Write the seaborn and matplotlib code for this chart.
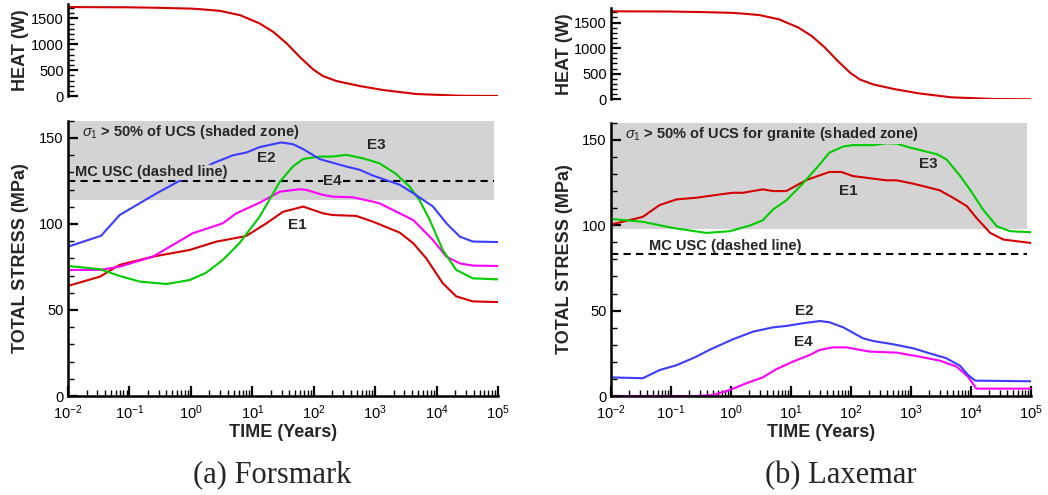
import numpy as np
import pandas as pd
import matplotlib
matplotlib.use("Agg")
import matplotlib.pyplot as plt
import matplotlib.ticker as mticker
import seaborn as sns

sns.set_theme(style="white")
plt.rcParams['font.family'] = ['Liberation Sans', 'DejaVu Sans']
plt.rcParams['mathtext.fontset'] = 'custom'
plt.rcParams['mathtext.rm'] = 'Liberation Sans'
plt.rcParams['mathtext.it'] = 'Liberation Sans:italic'
plt.rcParams['mathtext.bf'] = 'Liberation Sans:bold'

# ---------------- data (time given as log10 of years) ----------------
heat_logt = [-2, -1, -0.5, 0, 0.15, 0.47, 0.8, 1.12, 1.34, 1.56, 1.77, 1.99, 2.15, 2.37, 2.75, 3.13, 3.67, 4.38, 5.0]
heat_w = [1720, 1715, 1705, 1690, 1679, 1647, 1563, 1403, 1241, 1017, 759, 515, 386, 290, 193, 116, 39, 6, 0]

# Forsmark
f_e1_logt = [-2, -1.48, -1.16, -0.62, -0.02, 0.41, 0.90, 1.23, 1.50, 1.83, 2.15, 2.31, 2.69, 2.96, 3.40, 3.62, 3.83, 4.10, 4.32, 4.59, 5.0]
f_e1 = [64.0, 69.4, 76.2, 81.0, 84.9, 89.7, 93.0, 100.4, 107.1, 110.1, 106.2, 105.2, 104.7, 101.4, 95.0, 88.8, 80.1, 65.6, 57.9, 55.0, 54.6]
f_e2_logt = [-2, -1.46, -1.16, -0.56, -0.07, 0.36, 0.69, 0.90, 1.12, 1.47, 1.66, 1.83, 2.10, 2.53, 2.75, 2.96, 3.40, 3.62, 3.94, 4.16, 4.38, 4.59, 5.0]
f_e2 = [86.8, 93.2, 105.2, 117.8, 127.3, 135.3, 140.0, 141.5, 144.7, 147.4, 146.4, 143.5, 137.7, 133.4, 131.5, 128.2, 122.8, 117.9, 110.2, 100.4, 92.6, 89.8, 89.5]
f_e3_logt = [-2, -1.48, -1.16, -0.83, -0.40, -0.02, 0.25, 0.52, 0.79, 1.12, 1.45, 1.66, 1.83, 2.10, 2.31, 2.53, 2.80, 3.07, 3.34, 3.56, 3.72, 3.89, 4.10, 4.32, 4.59, 5.0]
f_e3 = [75.6, 73.7, 69.8, 66.5, 65.1, 67.4, 71.7, 79.1, 88.8, 104.3, 124.6, 133.4, 137.8, 139.2, 139.2, 140.2, 138.2, 135.3, 129.1, 121.7, 114.0, 102.3, 84.9, 73.3, 68.4, 67.8]
f_e4_logt = [-2, -1.48, -1.16, -0.62, 0.03, 0.52, 0.74, 1.12, 1.45, 1.77, 1.88, 2.15, 2.31, 2.64, 2.96, 3.07, 3.62, 3.94, 4.16, 4.38, 4.59, 5.0]
f_e4 = [73.3, 73.3, 75.2, 81.0, 94.6, 100.4, 106.2, 112.4, 118.8, 120.2, 119.8, 116.9, 115.9, 115.5, 113.0, 112.0, 102.3, 90.7, 81.0, 77.1, 75.8, 75.6]

# Laxemar
l_e1_logt = [-2, -1.47, -1.19, -0.91, -0.58, -0.19, 0.03, 0.20, 0.53, 0.70, 0.92, 1.26, 1.64, 1.84, 2.03, 2.59, 2.76, 3.04, 3.26, 3.48, 3.70, 3.93, 4.09, 4.32, 4.54, 5.0]
l_e1 = [100.4, 104.9, 111.8, 115.1, 116.1, 118.0, 119.0, 119.0, 121.0, 120.0, 120.0, 126.5, 131.2, 131.2, 128.8, 126.3, 126.3, 124.3, 122.4, 120.4, 116.1, 111.2, 104.3, 95.5, 91.6, 89.6]
l_e2_logt = [-2, -1.47, -1.19, -0.91, -0.58, -0.36, 0.03, 0.37, 0.70, 0.92, 1.20, 1.48, 1.64, 1.87, 2.20, 2.37, 2.70, 3.04, 3.31, 3.59, 3.82, 3.95, 4.07, 5.0]
l_e2 = [10.9, 10.4, 15.2, 18.0, 23.0, 27.0, 33.2, 37.7, 40.2, 41.0, 42.6, 43.9, 43.2, 40.2, 33.8, 32.2, 30.3, 27.9, 25.0, 22.1, 17.6, 12.3, 9.0, 8.6]
l_e3_logt = [-2, -1.47, -0.97, -0.41, -0.02, 0.31, 0.53, 0.70, 0.92, 1.20, 1.48, 1.64, 1.87, 2.03, 2.37, 2.59, 2.76, 2.98, 3.43, 3.59, 3.82, 3.98, 4.20, 4.43, 4.65, 5.0]
l_e3 = [103.7, 102.0, 98.4, 95.5, 96.5, 99.8, 102.9, 109.2, 114.5, 124.5, 135.7, 142.5, 146.1, 146.9, 146.9, 148.0, 147.8, 145.5, 141.6, 138.6, 128.8, 121.0, 109.2, 99.4, 96.5, 95.9]
l_e4_logt = [-2, -0.58, -0.30, -0.02, 0.25, 0.53, 0.75, 1.03, 1.31, 1.48, 1.70, 1.92, 2.31, 2.76, 3.15, 3.48, 3.76, 3.95, 4.09, 5.0]
l_e4 = [0, 0, 0.6, 3.5, 7.4, 10.9, 15.6, 20.1, 24.0, 27.0, 28.5, 28.5, 26.0, 25.4, 23.0, 20.7, 17.2, 11.3, 4.3, 4.3]

x_decades = [-2, -1, 0, 1, 2, 3, 4, 5]

f_shade = (114, 160)
f_mc_usc = 125
l_shade = (98, 160)
l_mc_usc = 83

col = {'E1': '#d40000', 'E2': '#3c3cff', 'E3': '#00cc00', 'E4': '#ff00ff'}
SHADE = '#d3d3d3'

fig = plt.figure(figsize=(10.48, 4.95), dpi=100)

def style_axis(ax, bottom=True):
    for s in ['top', 'right']:
        ax.spines[s].set_visible(False)
    ax.spines['left'].set_linewidth(1.8)
    ax.spines['left'].set_color('black')
    if bottom:
        ax.spines['bottom'].set_linewidth(1.8)
        ax.spines['bottom'].set_color('black')
    else:
        ax.spines['bottom'].set_visible(False)
    ax.tick_params(which='major', direction='in', length=7, width=1.6, color='black',
                   labelsize=10.5, labelcolor='black', pad=3)
    ax.tick_params(which='minor', direction='in', length=4, width=1.0, color='black')
    ax.tick_params(axis='y', which='both', left=True, right=False)
    if bottom:
        ax.tick_params(axis='x', which='both', bottom=True, top=False, pad=5)
    else:
        ax.tick_params(axis='x', which='both', bottom=False, labelbottom=False)
    ax.grid(False)
    ax.set_facecolor('none')

def heat_panel(rect):
    ax = fig.add_axes(rect)
    df = pd.DataFrame({'t': 10 ** np.array(heat_logt, dtype=float), 'w': heat_w})
    sns.lineplot(data=df, x='t', y='w', ax=ax, color='#d40000', lw=1.5, estimator=None, sort=False)
    ax.set_xscale('log')
    ax.set_xlim(1e-2, 1e5)
    ax.set_ylim(0, 1780)
    ax.xaxis.set_major_locator(mticker.NullLocator())
    ax.xaxis.set_minor_locator(mticker.NullLocator())
    ax.yaxis.set_major_locator(mticker.FixedLocator([0, 500, 1000, 1500]))
    ax.yaxis.set_minor_locator(mticker.MultipleLocator(100))
    style_axis(ax, bottom=False)
    ax.set_xlabel('')
    ax.set_ylabel('HEAT (W)', fontsize=13, fontweight='bold')
    ax.yaxis.set_label_coords(-0.09, 0.5)
    return ax

def stress_panel(rect, series, shade, mc, labels, texts):
    ax = fig.add_axes(rect)
    ax.axhspan(shade[0], shade[1], xmax=0.99, color=SHADE, lw=0, zorder=0)
    ax.axhline(mc, xmax=0.99, color='black', lw=1.5, dashes=(3.5, 2.5), zorder=1)
    for name, lt, v in series:
        df = pd.DataFrame({'t': 10 ** np.array(lt, dtype=float), 'v': v})
        sns.lineplot(data=df, x='t', y='v', ax=ax, color=col[name], lw=1.5,
                     estimator=None, sort=False, zorder=2)
    ax.set_xscale('log')
    ax.set_xlim(1e-2, 1e5)
    ax.set_ylim(0, 160)
    majors = [10.0 ** d for d in x_decades]
    minors = [m * 10.0 ** d for d in x_decades[:-1] for m in range(2, 10)]
    ax.xaxis.set_major_locator(mticker.FixedLocator(majors))
    ax.xaxis.set_major_formatter(mticker.LogFormatterSciNotation())
    ax.xaxis.set_minor_locator(mticker.FixedLocator(minors))
    ax.xaxis.set_minor_formatter(mticker.NullFormatter())
    ax.yaxis.set_major_locator(mticker.FixedLocator([0, 50, 100, 150]))
    ax.yaxis.set_minor_locator(mticker.MultipleLocator(10))
    style_axis(ax, bottom=True)
    ax.set_xlabel('TIME (Years)', fontsize=13, fontweight='bold', labelpad=2)
    ax.set_ylabel('TOTAL STRESS (MPa)', fontsize=13, fontweight='bold')
    ax.yaxis.set_label_coords(-0.09, 0.5)
    for name, lt, v in labels:
        ax.text(10 ** lt, v, name, fontsize=11, fontweight='bold', ha='center', va='center',
                zorder=3, bbox=dict(facecolor=SHADE, edgecolor='none', pad=0.5) if v > shade[0] else None)
    for s, lt, v in texts:
        ax.text(10 ** lt, v, s, fontsize=10.5, fontweight='bold', ha='left', va='center', zorder=3,
                bbox=dict(facecolor=SHADE, edgecolor='none', pad=0.3) if v > shade[0] else None)
    return ax

# Forsmark (left)
heat_panel([0.0649, 0.806, 0.4103, 0.186])
stress_panel([0.0649, 0.2, 0.4103, 0.556],
             [('E1', f_e1_logt, f_e1), ('E4', f_e4_logt, f_e4), ('E3', f_e3_logt, f_e3), ('E2', f_e2_logt, f_e2)],
             f_shade, f_mc_usc,
             [('E2', 1.22, 138.5), ('E3', 3.02, 146.0), ('E4', 2.31, 124.8), ('E1', 1.74, 99.4)],
             [(r'$\sigma_1$ > 50% of UCS (shaded zone)', -1.78, 153.7), ('MC USC (dashed line)', -1.89, 130.0)])

# Laxemar (right)
heat_panel([0.583, 0.7994, 0.4008, 0.184])
stress_panel([0.583, 0.2, 0.4008, 0.552],
             [('E1', l_e1_logt, l_e1), ('E3', l_e3_logt, l_e3), ('E4', l_e4_logt, l_e4), ('E2', l_e2_logt, l_e2)],
             l_shade, l_mc_usc,
             [('E3', 3.29, 135.7), ('E1', 1.95, 120.0), ('E2', 1.23, 50.0), ('E4', 1.20, 31.8)],
             [(r'$\sigma_1$ > 50% of UCS for granite (shaded zone)', -1.76, 153.3), ('MC USC (dashed line)', -1.36, 88.0)])

fig.text(0.2596, 0.040, '(a) Forsmark', fontsize=22, family='Liberation Serif', ha='center', va='center')
fig.text(0.8025, 0.040, '(b) Laxemar', fontsize=22, family='Liberation Serif', ha='center', va='center')

fig.savefig('out.png', dpi=100)
